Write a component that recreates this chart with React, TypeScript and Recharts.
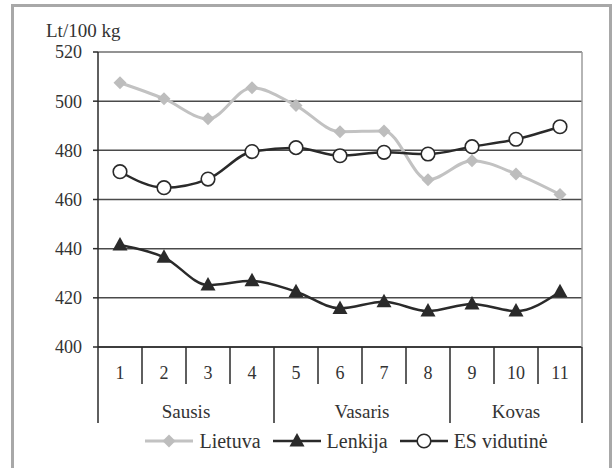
import { LineChart, Line, XAxis, YAxis, CartesianGrid, Legend, ReferenceLine } from "recharts";

const weeks = ["1", "2", "3", "4", "5", "6", "7", "8", "9", "10", "11"];
const lietuva = [507.5, 501, 492.8, 505.5, 498.2, 487.6, 487.9, 468, 475.8, 470.4, 462];
const lenkija = [441.5, 436.5, 425.2, 426.9, 422.5, 415.7, 418.4, 414.6, 417.5, 414.6, 422.5];
const esVidutine = [471.3, 464.8, 468.3, 479.5, 481.1, 477.8, 479.2, 478.5, 481.5, 484.5, 489.6];
const months = ["Sausis", "Vasaris", "Kovas"];
const weeksPerMonth = [4, 4, 3];
const yTicks = [400, 420, 440, 460, 480, 500, 520];

const data = weeks.map((w, i) => ({
  week: w,
  lietuva: lietuva[i],
  lenkija: lenkija[i],
  es: esVidutine[i],
}));

const W = 612;
const H = 468;
const TOP = 52;
const LEFT = 98;
const RIGHT = 30;
const BOTTOM_PLOT = 347;
const BAND = (W - LEFT - RIGHT) / weeks.length;
const FONT = "Liberation Serif, DejaVu Serif, serif";
const TXT = "#333";
const DARK = "#2a2a2a";
const GREY_LINE = "#c2c2c2";

const monthStarts = weeksPerMonth.map((_, i) =>
  weeksPerMonth.slice(0, i).reduce((a, b) => a + b, 0)
);

const WeekTick = (props: any) => {
  const { x, index, payload } = props;
  const left = x - BAND / 2;
  const right = x + BAND / 2;
  const mi = monthStarts.indexOf(index);
  const last = index === weeks.length - 1;
  return (
    <g>
      <text x={x} y={379} textAnchor="middle" fontSize={18} fill={TXT} style={{ fontFamily: FONT }}>
        {payload.value}
      </text>
      <line x1={left} x2={left} y1={BOTTOM_PLOT} y2={mi >= 0 ? 423 : 384} stroke={DARK} strokeWidth={1.5} />
      {mi >= 0 && (
        <text
          x={left + (weeksPerMonth[mi] * BAND) / 2}
          y={418}
          textAnchor="middle"
          fontSize={19}
          fill={TXT}
          style={{ fontFamily: FONT }}
        >
          {months[mi]}
        </text>
      )}
      {last && (
        <>
          <line x1={right} x2={right} y1={BOTTOM_PLOT} y2={423} stroke={DARK} strokeWidth={1.5} />
          <line x1={right} x2={right} y1={TOP} y2={BOTTOM_PLOT} stroke="#9c9c9c" strokeWidth={1.5} />
        </>
      )}
    </g>
  );
};

const diamond = (cx: number, cy: number, fill: string) => (
  <polygon points={`${cx},${cy - 6.5} ${cx + 6.5},${cy} ${cx},${cy + 6.5} ${cx - 6.5},${cy}`} fill={fill} />
);
const triangle = (cx: number, cy: number, fill: string) => (
  <polygon points={`${cx},${cy - 8} ${cx + 7.5},${cy + 5.5} ${cx - 7.5},${cy + 5.5}`} fill={fill} />
);
const circle = (cx: number, cy: number) => (
  <circle cx={cx} cy={cy} r={6.8} fill="#fff" stroke={DARK} strokeWidth={1.6} />
);

const DiamondDot = (p: any) => <g key={p.index}>{diamond(p.cx, p.cy, "#bdbdbd")}</g>;
const TriangleDot = (p: any) => <g key={p.index}>{triangle(p.cx, p.cy, DARK)}</g>;
const CircleDot = (p: any) => <g key={p.index}>{circle(p.cx, p.cy)}</g>;

const legendItems = [
  { name: "Lietuva", color: GREY_LINE, width: 3, marker: (x: number, y: number) => diamond(x, y, "#bdbdbd") },
  { name: "Lenkija", color: DARK, width: 2.5, marker: (x: number, y: number) => triangle(x, y, DARK) },
  { name: "ES vidutinė", color: DARK, width: 2.5, marker: (x: number, y: number) => circle(x, y) },
];

const LegendContent = () => (
  <div
    style={{
      display: "flex",
      justifyContent: "center",
      alignItems: "center",
      height: 28,
      paddingLeft: 81,
      fontFamily: FONT,
      fontSize: 20,
      color: TXT,
    }}
  >
    {legendItems.map((it, i) => (
      <div key={it.name} style={{ display: "flex", alignItems: "center", marginRight: i < 2 ? 12 : 0 }}>
        <svg width={48} height={18}>
          <line x1={0} x2={48} y1={9} y2={9} stroke={it.color} strokeWidth={it.width} />
          {it.marker(24, 9)}
        </svg>
        <span style={{ marginLeft: 6 }}>{it.name}</span>
      </div>
    ))}
  </div>
);

export default function App() {
  return (
    <div style={{ position: "absolute", left: 0, top: 0, width: W, height: H, background: "#fff" }}>
      <div
        style={{
          position: "absolute",
          left: 11,
          top: 4,
          width: W - 11,
          height: H - 4,
          borderTop: "3px solid #a8a8a8",
          borderLeft: "3px solid #a8a8a8",
          borderRight: "3px solid #a8a8a8",
          boxSizing: "border-box",
        }}
      />
      <div
        style={{
          position: "absolute",
          left: 46,
          top: 19,
          fontFamily: FONT,
          fontSize: 19,
          lineHeight: "24px",
          color: TXT,
        }}
      >
        Lt/100 kg
      </div>
      <div style={{ position: "absolute", left: 0, top: 0 }}>
        <LineChart width={W} height={H} data={data} margin={{ top: TOP, right: RIGHT, left: 0, bottom: 13 }}>
          <CartesianGrid vertical={false} stroke="#4a4a4a" strokeWidth={1.5} />
          <ReferenceLine y={520} stroke="#9c9c9c" strokeWidth={1.5} />
          <XAxis
            dataKey="week"
            padding={{ left: BAND / 2, right: BAND / 2 }}
            height={80}
            tickLine={false}
            axisLine={{ stroke: DARK, strokeWidth: 1.5 }}
            tick={<WeekTick />}
            interval={0}
          />
          <YAxis
            width={LEFT}
            domain={[400, 520]}
            ticks={yTicks}
            tickSize={5}
            tickMargin={11}
            axisLine={{ stroke: DARK, strokeWidth: 1.5 }}
            tickLine={{ stroke: DARK, strokeWidth: 1.5 }}
            tick={{ fontSize: 18, fill: TXT, style: { fontFamily: FONT } }}
          />
          <Legend verticalAlign="bottom" wrapperStyle={{ left: 0, width: W }} content={<LegendContent />} />
          <Line
            type="monotone"
            dataKey="lietuva"
            name="Lietuva"
            stroke={GREY_LINE}
            strokeWidth={3}
            dot={DiamondDot}
            isAnimationActive={false}
          />
          <Line
            type="monotone"
            dataKey="lenkija"
            name="Lenkija"
            stroke={DARK}
            strokeWidth={2.5}
            dot={TriangleDot}
            isAnimationActive={false}
          />
          <Line
            type="monotone"
            dataKey="es"
            name="ES vidutinė"
            stroke={DARK}
            strokeWidth={2.5}
            dot={CircleDot}
            isAnimationActive={false}
          />
        </LineChart>
      </div>
    </div>
  );
}
